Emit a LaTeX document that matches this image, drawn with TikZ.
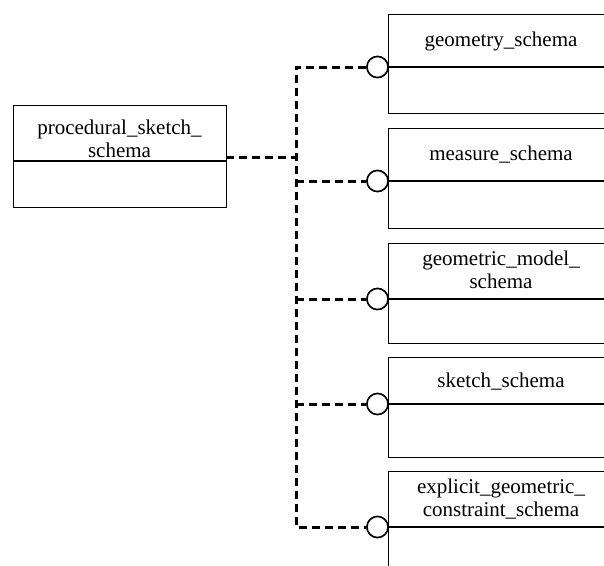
\documentclass[tikz,border=0pt]{standalone}
\usepackage{fontspec}
\setmainfont{Liberation Serif}
\begin{document}
\begin{tikzpicture}[x=1pt,y=-1pt,
  box/.style={draw, line width=1.4pt, anchor=north west, inner sep=0pt, minimum width=226pt},
  lbox/.style={draw, line width=1.4pt, anchor=north west, inner sep=0pt, minimum width=213pt},
  title/.style={align=center, inner sep=0pt, font=\fontsize{21}{23.5}\selectfont},
  divider/.style={line width=1.4pt},
  conn/.style={line width=3pt, dash pattern=on 8pt off 5pt},
  ball/.style={circle, draw, line width=1.5pt, fill=white, minimum size=21pt, inner sep=0pt}]
\useasboundingbox (0,0) rectangle (604,565);
\clip (0,0) rectangle (604,565);

% left box
\node[lbox, minimum height=102pt] (p) at (13,105) {};
\draw[divider] (p.west |- 0,161) -- (p.east |- 0,161);
\node[title] (pt) at (119.5,139) {procedural\_sketch\_\\schema};

% right boxes
\node[box, minimum height=99pt] (g) at (388,14) {};
\draw[divider] (g.west |- 0,67) -- (g.east |- 0,67);
\node[title] (gt) at (501,41) {geometry\_schema};

\node[box, minimum height=100pt] (m) at (388,128) {};
\draw[divider] (m.west |- 0,181) -- (m.east |- 0,181);
\node[title] (mt) at (501,155) {measure\_schema};

\node[box, minimum height=100pt] (gm) at (388,243) {};
\draw[divider] (gm.west |- 0,299) -- (gm.east |- 0,299);
\node[title] (gmt) at (501,270) {geometric\_model\_\\schema};

\node[box, minimum height=100pt] (s) at (388,357) {};
\draw[divider] (s.west |- 0,404) -- (s.east |- 0,404);
\node[title] (st) at (501,382) {sketch\_schema};

\node[box, minimum height=120pt] (e) at (388,471) {};
\draw[divider] (e.west |- 0,527) -- (e.east |- 0,527);
\node[title] (et) at (501,499) {explicit\_geometric\_\\constraint\_schema};

% connectors
\coordinate (pout) at (226,157.5);
\coordinate (bj) at (296,157.5);
\coordinate (b1) at (296,67);
\coordinate (b2) at (296,181);
\coordinate (b3) at (296,299);
\coordinate (b4) at (296,404);
\coordinate (b5) at (296,527);

\node[ball] (c1) at (377.5,67) {};
\node[ball] (c2) at (377.5,181) {};
\node[ball] (c3) at (377.5,299) {};
\node[ball] (c4) at (377.5,404) {};
\node[ball] (c5) at (377.5,527) {};

\draw[conn] (c1.west) -- (b1) -- (b5) -- (c5.west);
\draw[conn] (b2) -- (c2.west);
\draw[conn] (b3) -- (c3.west);
\draw[conn] (b4) -- (c4.west);
\draw[conn] (pout) -- (bj);

\node[ball] at (c1) {};
\node[ball] at (c2) {};
\node[ball] at (c3) {};
\node[ball] at (c4) {};
\node[ball] at (c5) {};
\end{tikzpicture}
\end{document}
